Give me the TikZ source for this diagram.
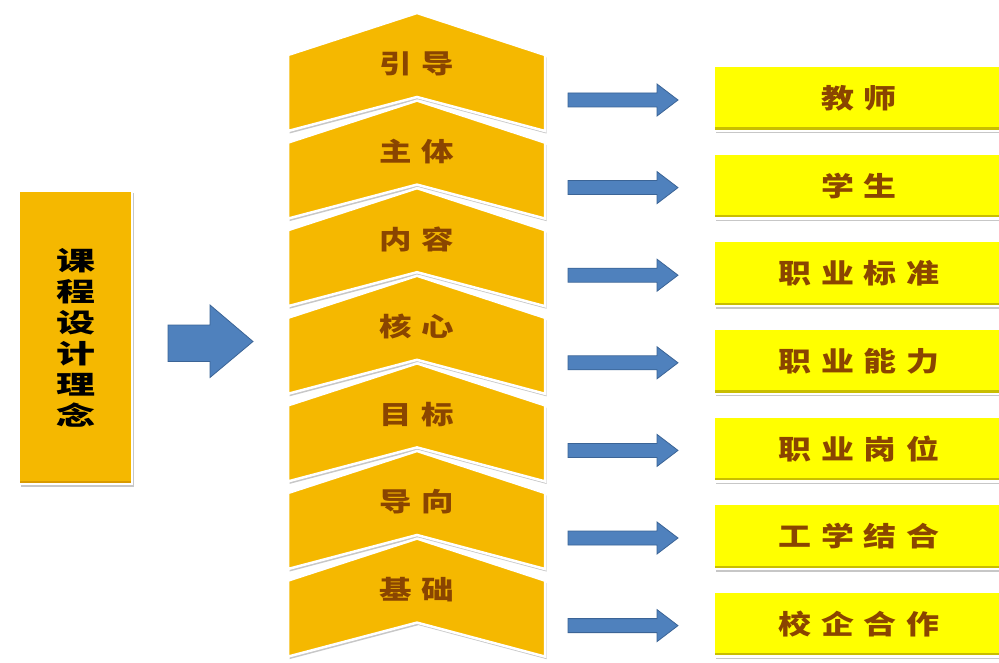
\documentclass[tikz,border=0pt]{standalone}
\usepackage{fontspec}
\usepackage{graphicx}
\newfontfamily\cjk{Noto Sans CJK SC}
\usetikzlibrary{shadows}
\definecolor{gold}{HTML}{F5B800}
\definecolor{lemon}{HTML}{FFFF00}
\definecolor{lemondark}{HTML}{C9BE00}
\definecolor{golddark}{HTML}{D99A00}
\definecolor{brownt}{HTML}{8A4500}
\definecolor{arrowblue}{HTML}{4F81BD}
\definecolor{arrowedge}{HTML}{3B6496}
\newcommand{\gp}{\hspace{8pt}}
\tikzset{
  softshadow/.style={drop shadow={opacity=0.4,shadow xshift=1.5pt,shadow yshift=-2.5pt,fill=black!55}},
  leftbox/.style={fill=gold,draw=white,line width=2.5pt,softshadow,minimum width=113pt,minimum height=293pt,inner sep=0pt,align=center,
    font=\cjk\bfseries\fontsize{26}{31}\selectfont,text=black,
    path picture={\fill[golddark] ([yshift=3pt]path picture bounding box.south west) rectangle (path picture bounding box.south east);}},
  chev/.style={fill=gold,draw=white,line width=2.5pt,line join=miter,softshadow},
  chevtext/.style={font=\cjk\bfseries\fontsize{26}{30}\selectfont,text=brownt,inner sep=0pt},
  ybox/.style={fill=lemon,draw=white,line width=2.5pt,softshadow,minimum width=290pt,minimum height=65pt,inner sep=0pt,
    font=\cjk\bfseries\fontsize{27}{30}\selectfont,text=brownt,
    path picture={\fill[lemondark] ([yshift=3.5pt]path picture bounding box.south west) rectangle (path picture bounding box.south east);}},
  blockarrow/.style={fill=arrowblue,draw=arrowedge,line width=0.8pt,line join=miter},
}
\begin{document}
\begin{tikzpicture}[x=1pt,y=-1pt]
\clip (0,0) rectangle (999,663);
\fill[white] (0,0) rectangle (999,663);
% left box
\node[leftbox] (concept) at (75.5,337.5) {\scalebox{1.5}[1]{课}\\\scalebox{1.5}[1]{程}\\\scalebox{1.5}[1]{设}\\\scalebox{1.5}[1]{计}\\\scalebox{1.5}[1]{理}\\\scalebox{1.5}[1]{念}};
% big arrow
\coordinate (bigtail) at (168,343.5);
\draw[blockarrow] (bigtail) ++(0,-18.5) -- ++(42,0) -- ++(0,-20) -- ++(43,36.5) -- ++(-43,36) -- ++(0,-16) -- ++(-42,0) -- cycle;
% chevrons
\foreach \i/\t in {0/引\gp 导,1/主\gp 体,2/内\gp 容,3/核\gp 心,4/目\gp 标,5/导\gp 向,6/基\gp 础}{
  \pgfmathsetmacro{\yy}{87.6*\i}
  \path[chev] (288,55+\yy) -- (417,13+\yy) -- (545,55+\yy) -- (545,131+\yy) -- (417,97+\yy) -- (288,131+\yy) -- cycle;
  \node[chevtext] (c\i) at (417,64+\yy) {\scalebox{1.25}[1]{\t}};
}
% yellow boxes and arrows
\foreach \i/\t in {0/教\gp 师,1/学\gp 生,2/职\gp 业\gp 标\gp 准,3/职\gp 业\gp 能\gp 力,4/职\gp 业\gp 岗\gp 位,5/工\gp 学\gp 结\gp 合,6/校\gp 企\gp 合\gp 作}{
  \pgfmathsetmacro{\yy}{87.6*\i}
  \node[ybox] (b\i) at (859,98.5+\yy) {\scalebox{1.22}[1]{\t}};
  \coordinate (a\i) at (568,100+\yy);
  \draw[blockarrow] (a\i) ++(0,-7) -- ++(89,0) -- ++(0,-9) -- ++(21,16) -- ++(-21,16) -- ++(0,-9) -- ++(-89,0) -- cycle;
}
\end{tikzpicture}
\end{document}
